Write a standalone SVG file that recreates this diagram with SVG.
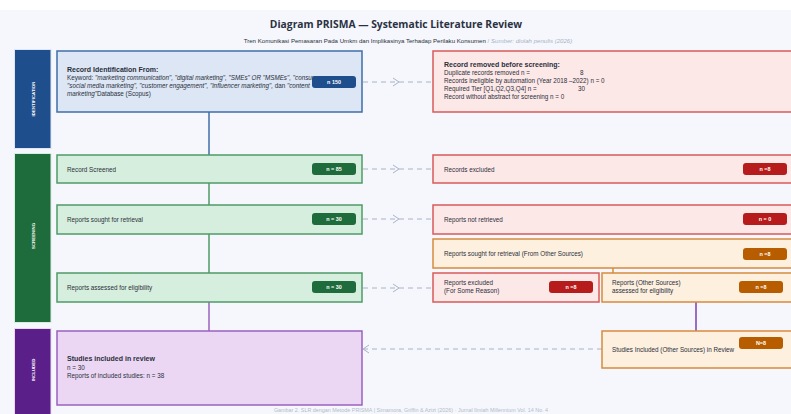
<svg xmlns="http://www.w3.org/2000/svg" width="791" height="414" viewBox="0 0 791 414">
<defs>
<style>
text{font-family:"Liberation Sans",Arial,sans-serif;fill:#2a2f3a}
.t{font-size:6.3px}
.b{font-weight:bold}
.h{font-size:7px;font-weight:bold}
.badge{font-size:5.4px;font-weight:bold;fill:#fff;text-anchor:middle}
.side{font-size:4.4px;font-weight:bold;fill:#fff;text-anchor:middle}
.blue{fill:#dce6f5;stroke:#3f6ea9;stroke-width:1.5}
.green{fill:#d6eedd;stroke:#4f9a67;stroke-width:1.5}
.red{fill:#fde8e8;stroke:#d85a5a;stroke-width:1.5}
.orange{fill:#fdf0df;stroke:#d68c3c;stroke-width:1.5}
.purple{fill:#ebd7f4;stroke:#9a62be;stroke-width:1.5}
.dash{fill:none;stroke:#a8b3c6;stroke-width:1;stroke-dasharray:5 4}
</style>
<marker id="chev" viewBox="0 0 10 10" refX="6" refY="5" markerWidth="10" markerHeight="10" markerUnits="userSpaceOnUse" orient="auto"><path d="M1,1 L7,5 L1,9" fill="none" stroke="#a8b3c6" stroke-width="1"/></marker>
</defs>
<rect width="791" height="414" fill="#f5f7fc"/>
<rect width="791" height="10" fill="#ffffff"/>
<text x="396" y="28" text-anchor="middle" style="font-family:'Open Sans','Noto Sans',sans-serif;font-size:10.3px;font-weight:bold;fill:#2b3142">Diagram PRISMA — Systematic Literature Review</text>
<text x="408" y="43" text-anchor="middle" style="font-size:6.1px"><tspan>Tren Komunikasi Pemasaran Pada Umkm dan Implikasinya Terhadap Perilaku Konsumen</tspan><tspan fill="#a8b3c6">  /  </tspan><tspan fill="#a8b3c6" font-style="italic">Sumber: diolah penulis (2026)</tspan></text>

<g id="phase-identification"><rect x="14.5" y="49.5" width="36.5" height="99" fill="#1f4e8c" stroke="#dce6f5" stroke-width="1"/><text class="side" transform="translate(33,99) rotate(-90)" y="1.6">IDENTIFICATION</text></g>
<g id="phase-screening"><rect x="14.5" y="153.5" width="36.5" height="169" fill="#1e6b3c" stroke="#d6eedd" stroke-width="1"/><text class="side" transform="translate(33,236) rotate(-90)" y="1.6">SCREENING</text></g>
<g id="phase-included"><rect x="14.5" y="328.5" width="36.5" height="90" fill="#5b1f8a" stroke="#ebd7f4" stroke-width="1"/><text class="side" transform="translate(33,370) rotate(-90)" y="1.6">INCLUDED</text></g>

<g id="connectors">
<line x1="209" y1="112" x2="209" y2="155" stroke="#3f6ea9" stroke-width="1.5"/>
<line x1="209" y1="183" x2="209" y2="205" stroke="#4f9a67" stroke-width="1.5"/>
<line x1="209" y1="234" x2="209" y2="273" stroke="#4f9a67" stroke-width="1.5"/>
<line x1="209" y1="302" x2="209" y2="331" stroke="#9a62be" stroke-width="1.5"/>
<line x1="613" y1="268" x2="613" y2="273" stroke="#d68c3c" stroke-width="1.5"/>
<line x1="696" y1="302" x2="696" y2="331" stroke="#7a3fb0" stroke-width="1.5"/>
<path class="dash" d="M363,82 L398,82 L433,82" marker-mid="url(#chev)"/>
<path class="dash" d="M363,169 L398,169 L433,169" marker-mid="url(#chev)"/>
<path class="dash" d="M363,219 L398,219 L433,219" marker-mid="url(#chev)"/>
<path class="dash" d="M363,288 L398,288 L433,288" marker-mid="url(#chev)"/>
<path class="dash" d="M602,349 L364,349" marker-end="url(#chev)"/>
</g>

<g id="record-identification">
<rect class="blue" x="57" y="51" width="305" height="61"/>
<text class="h" x="67" y="72">Record Identification From:</text>
<text class="t" x="67" y="80">Keyword: <tspan font-style="italic">"marketing communication", "digital marketing", "SMEs" OR "MSMEs", "consumer</tspan></text>
<text class="t" x="67" y="88" font-style="italic">"social media marketing", "customer engagement", "influencer marketing",<tspan font-style="normal">      dan </tspan>"content</text>
<text class="t" x="67" y="96"><tspan font-style="italic">marketing"</tspan>Database (Scopus)</text>
<rect x="312" y="76" width="44" height="12" rx="3" fill="#1f4e8c"/><text class="badge" x="334" y="84">n 150</text>
</g>

<g id="record-removed">
<rect class="red" x="433" y="51" width="360" height="61"/>
<text class="h" x="444" y="67">Record removed before screening:</text>
<text class="t" x="444" y="75">Duplicate records removed n =</text><text class="t" x="580" y="75">8</text>
<text class="t" x="444" y="83">Records ineligible by automation (Year 2018  –2022) n = 0</text>
<text class="t" x="444" y="91">Required Tier [Q1,Q2,Q3,Q4] n =</text><text class="t" x="578" y="91">30</text>
<text class="t" x="444" y="99">Record without abstract for screening n = 0</text>
</g>

<g id="record-screened">
<rect class="green" x="57" y="155" width="305" height="28"/>
<text class="t" x="67" y="172">Record Screened</text>
<rect x="312" y="163" width="44" height="12" rx="3" fill="#1e6b3c"/><text class="badge" x="334" y="171">n = 85</text>
</g>

<g id="reports-sought">
<rect class="green" x="57" y="205" width="305" height="29"/>
<text class="t" x="67" y="222">Reports sought for retrieval</text>
<rect x="312" y="213" width="44" height="12" rx="3" fill="#1e6b3c"/><text class="badge" x="334" y="221">n = 30</text>
</g>

<g id="reports-assessed">
<rect class="green" x="57" y="273" width="305" height="29"/>
<text class="t" x="67" y="290">Reports assessed for eligibility</text>
<rect x="312" y="281" width="44" height="12" rx="3" fill="#1e6b3c"/><text class="badge" x="334" y="289">n = 30</text>
</g>

<g id="records-excluded">
<rect class="red" x="433" y="155" width="360" height="28"/>
<text class="t" x="444" y="172">Records excluded</text>
<rect x="743" y="163" width="44" height="12" rx="3" fill="#b71c1c"/><text class="badge" x="765" y="171">n =8</text>
</g>

<g id="reports-not-retrieved">
<rect class="red" x="433" y="205" width="360" height="29"/>
<text class="t" x="444" y="222">Reports not retrieved</text>
<rect x="743" y="213" width="44" height="12" rx="3" fill="#b71c1c"/><text class="badge" x="765" y="221">n = 0</text>
</g>

<g id="reports-sought-other">
<rect class="orange" x="433" y="239" width="360" height="29"/>
<text class="t" x="444" y="256">Reports sought for retrieval (From Other Sources)</text>
<rect x="743" y="248" width="44" height="12" rx="3" fill="#b85c00"/><text class="badge" x="765" y="256">n =8</text>
</g>

<g id="reports-excluded-reason">
<rect class="red" x="433" y="273" width="166" height="29"/>
<text class="t" x="444" y="285">Reports excluded</text>
<text class="t" x="444" y="293">(For Some Reason)</text>
<rect x="549" y="281" width="44" height="12" rx="3" fill="#b71c1c"/><text class="badge" x="571" y="289">n =8</text>
</g>

<g id="reports-other-assessed">
<rect class="orange" x="602" y="273" width="191" height="29"/>
<text class="t" x="612" y="285">Reports (Other Sources)</text>
<text class="t" x="612" y="293">assessed for eligibility</text>
<rect x="739" y="281" width="44" height="12" rx="3" fill="#b85c00"/><text class="badge" x="761" y="289">n =8</text>
</g>

<g id="studies-included">
<rect class="purple" x="57" y="331" width="305" height="74"/>
<text class="h" x="67" y="361">Studies included in review</text>
<text class="t" x="67" y="370">n = 30</text>
<text class="t" x="67" y="378">Reports of included studies: n =  38</text>
</g>

<g id="studies-included-other">
<rect class="orange" x="602" y="331" width="191" height="37"/>
<text class="t" x="612" y="352">Studies Included (Other Sources) in Review</text>
<rect x="739" y="337" width="44" height="12" rx="3" fill="#b85c00"/><text class="badge" x="761" y="345">N=8</text>
</g>

<text x="411" y="412" text-anchor="middle" style="font-size:5.4px;fill:#b3bccb">Gambar 2. SLR dengan Metode PRISMA | Simamora, Griffin &amp; Azizi (2026) · Jurnal Ilmiah Millennium Vol. 14 No. 4</text>
</svg>
